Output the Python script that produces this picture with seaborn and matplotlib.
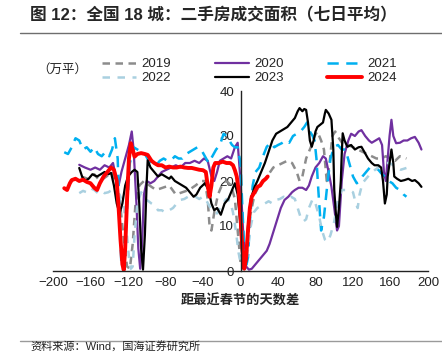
import numpy as np
import pandas as pd
import matplotlib
matplotlib.use("Agg")
import matplotlib.pyplot as plt
import seaborn as sns

sns.set_style("white")
plt.rcParams["font.family"] = ["Liberation Sans", "Noto Sans CJK SC", "DejaVu Sans"]
plt.rcParams["axes.unicode_minus"] = True

# days from Spring Festival / 7-day avg area (10k m2)
x_2019 = [-170, -163, -156, -150, -143, -137, -132, -128, -124, -121, -118, -115, -112, -108, -103, -97, -90, -83,
          -76, -69, -62, -55, -48, -42, -38, -35, -33, -31, -28, -24, -20, -15, -10, -6, -3, 0, 3, 6, 10, 15, 20,
          25, 30, 35, 40, 45, 50, 55, 60, 63, 66, 70, 75, 79, 82, 86, 89, 92, 95, 98, 101, 105, 110, 115, 120, 125,
          130, 135, 140, 145, 150, 155, 160, 165, 170, 177]
y_2019 = [21, 20.5, 21.5, 20, 21, 22, 19, 14, 6, 1, 0.5, 6, 15, 19, 20, 19, 18, 18.5,
          19, 17, 17.5, 18, 19, 20, 20, 16, 10, 9, 13, 17, 19, 20, 19, 16, 9, 2, 0.5, 3, 12, 17, 19,
          20, 21.5, 23, 23.5, 24, 24.5, 24, 22, 20, 21, 25, 27.5, 30, 31, 29, 27, 20, 24, 30, 31, 29.5, 28, 28, 27.5, 27,
          26.5, 26, 25.5, 25, 25, 25.5, 25, 24.5, 25.5, 25]

x_2020 = [-172, -166, -160, -155, -150, -145, -140, -136, -133, -130, -127, -123, -119, -116, -114, -111, -109, -107,
          -105, -103, -100, -96, -92, -88, -84, -79, -74, -69, -64, -59, -54, -49, -44, -39, -35, -31, -28, -25, -22,
          -18, -14, -10, -6, -3, 0, 3, 6, 9, 12, 16, 20, 24, 28, 31, 34, 37, 40, 43, 47, 51, 55, 58, 62, 66, 70, 73,
          76, 80, 84, 88, 91, 94, 97, 100, 103, 105, 108, 111, 115, 118, 122, 126, 129, 133, 137, 140, 144, 148, 151,
          153, 155, 157, 159, 161, 163, 166, 170, 174, 178, 182, 186, 190, 193]
y_2020 = [23.6, 23, 22.5, 23, 22.5, 23.5, 23, 24, 21, 19, 22, 25, 28, 31, 27, 15, 5, 0.5,
          6, 17, 20, 19.5, 20, 21, 22, 22.5, 23, 23.5, 23, 24, 24, 24.5, 24, 25, 24.5, 21, 20, 22, 24.5,
          25, 25.5, 25, 27.5, 28.5, 20, 8, 1, 0.3, 0.5, 1.5, 2.5, 3.5, 4.5, 6, 8, 10, 12, 14, 15.8, 16.5, 17.5, 18, 18.5, 18.5, 18, 19,
          21, 23, 24, 25.5, 25, 22, 18.7, 14, 9, 10, 20, 26, 29, 30.5, 30, 31, 31.3, 30, 29, 28.5, 29, 29.5, 28,
          22, 20, 25, 30, 33.6, 30, 28.4, 28.5, 29, 29, 29.5, 29.8, 28.5, 27]

x_2021 = [-188, -184, -180, -176, -172, -168, -164, -160, -156, -152, -148, -144, -140, -137, -134, -131, -129, -127,
          -124, -121, -118, -114, -110, -106, -102, -98, -94, -90, -86, -82, -78, -74, -70, -66, -62, -58, -54, -50,
          -46, -42, -38, -34, -30, -26, -22, -18, -15, -12, -9, -6, -3, 0, 2, 4, 6, 8, 10, 13, 16, 20, 24, 28, 32,
          36, 40, 44, 48, 52, 56, 60, 64, 68, 71, 74, 77, 79, 81, 83, 86, 89, 93, 96, 100, 104, 108, 112, 116, 120,
          124, 127, 130, 134, 138, 143, 147, 151, 154, 158, 162, 166, 170, 174, 177]
y_2021 = [26.4, 26, 27.5, 29.5, 29, 27, 27.5, 26.5, 27.5, 26, 25.5, 26.5, 25.5, 27, 29.5, 25, 12, 1,
          3, 14, 24, 27.5, 27, 26.5, 26, 24.5, 24, 23.5, 24.5, 25, 24.5, 24.6, 25.5, 25, 25, 26, 26.5, 27,
          27.5, 27, 25.5, 24, 25.5, 27, 28, 30.5, 30, 29, 28, 27.5, 27.5, 24, 14, 5, 1, 3, 11, 19, 22, 23, 25.5, 27.6, 28.5,
          27.5, 28, 28.4, 29, 28.5, 30, 30.5, 31, 32, 33, 31, 30, 29, 25, 18, 9, 12, 20, 25, 27.6, 28, 27, 27, 24, 21,
          19.5, 20, 21, 22, 23, 23, 22.5, 21.5, 21, 20, 19.5, 18.5, 18, 17, 16.5]

x_2022 = [-172, -168, -164, -160, -156, -152, -148, -145, -141, -137, -133, -129, -125, -122, -119, -117, -115, -113,
          -110, -106, -102, -98, -95, -91, -88, -84, -80, -76, -72, -68, -64, -60, -56, -52, -48, -44, -40, -36, -32,
          -28, -25, -22, -19, -15, -11, -8, -5, -2, 1, 4, 7, 10, 14, 18, 22, 26, 30, 34, 38, 42, 46, 50, 54, 58, 61,
          64, 67, 70, 73, 77, 80, 84, 87, 90, 93, 96, 100, 104, 108, 112, 116, 120, 123, 125, 127, 130, 134, 138,
          143, 147, 151, 155, 159, 163, 167, 171, 177]
y_2022 = [17.3, 17.8, 17.5, 18.4, 18, 17.3, 17.8, 17.3, 17.5, 18, 17.5, 17, 15, 10, 3, 0.5, 1, 8,
          15, 17.5, 16, 15.5, 15, 14.5, 13.5, 13.5, 13, 13.5, 14, 15, 15.8, 16, 16.5, 16.5, 16.5, 16, 16.5, 15.5, 14,
          13, 12.8, 14, 15, 16, 15.5, 13, 9, 4, 1, 0.5, 3, 9, 13, 14, 14.5, 15, 15.5, 15, 15.8, 16, 16.5, 16, 16.5, 16, 14,
          12, 11, 11.5, 14, 16, 15, 12, 9, 7, 6.5, 8, 11, 16, 18, 18, 18, 17.5, 15, 14, 17, 19.5, 20.5, 21.5,
          22.4, 23, 23.5, 24, 24, 23.5, 23, 22.5, 22.9]

x_2023 = [-172, -169, -166, -162, -158, -153, -149, -145, -141, -138, -135, -132, -129, -126, -123, -120, -116, -113,
          -110, -108, -106, -104, -102, -100, -99, -96, -92, -88, -84, -80, -76, -74, -70, -66, -62, -58, -54, -50,
          -47, -43, -38, -34, -31, -28, -25, -21, -17, -13, -9, -6, -3, 0, 2, 4, 6, 8, 11, 15, 18, 22, 26, 30, 34,
          38, 42, 46, 50, 54, 58, 61, 63, 66, 68, 70, 72, 74, 76, 78, 80, 82, 85, 88, 90, 91, 94, 97, 99, 100, 102,
          103, 105, 107, 108, 109, 111, 114, 118, 122, 126, 129, 132, 136, 140, 143, 147, 150, 152, 154, 156, 157,
          159, 161, 163, 164, 167, 171, 175, 179, 183, 186, 190, 193]
y_2023 = [22.9, 21, 20, 20.5, 21.5, 21, 21.5, 22, 21.5, 21.8, 19, 15, 12.8, 15, 19, 21, 22, 22.5,
          22, 15, 5, 0.3, 8, 20, 24.6, 23, 22, 21, 21.5, 21, 20.5, 21, 20, 19.5, 19, 18.5, 17.5, 16.5,
          17, 18.5, 19.5, 18, 15, 13.5, 14, 12.5, 15, 16, 18, 19.5, 17, 10, 3, 0.5, 2, 10, 16, 18.7, 20, 22, 24, 26.5, 29,
          30.5, 31, 31.5, 32, 33, 34, 35.5, 36.2, 35.5, 36, 35.8, 33, 29, 27.6, 29, 31, 32, 32.5, 33, 35, 35.8, 35, 33.6, 27, 18, 12,
          9.8, 14, 20, 26, 30.6, 29, 27.6, 28, 27, 27.5, 27.6, 26.5, 25, 24, 23.5, 23.5, 23, 20, 15, 17, 21,
          24, 27, 24, 21, 20.5, 20, 20.2, 20.5, 20, 20.2, 19.5, 18.7]

x_2024 = [-188, -185, -182, -180, -176, -172, -168, -164, -160, -156, -153, -150, -146, -142, -138, -135, -132, -130,
          -128, -126, -124.5, -123, -121, -119, -117, -115, -113, -110, -106, -102, -99, -95, -92, -88, -84, -80,
          -76, -72, -68, -64, -60, -56, -52, -48, -44, -40, -37, -35, -33, -31, -29, -27, -23, -19, -15, -11, -8,
          -6, -4, -2, 0, 2, 4, 6, 8, 10, 12, 15, 18, 21, 24, 27, 29]
y_2024 = [18.4, 18, 19.5, 20.2, 20.5, 20, 20.3, 19.8, 19.5, 18.5, 18, 19.5, 21, 22, 23, 22.5, 20, 14,
          7, 1.5, 0.2, 5, 16, 25, 28.4, 27, 25.4, 26, 26.2, 26, 25.8, 24.5, 24, 23.5, 23.5, 23,
          23.2, 23, 23, 23.2, 23, 22.9, 22.9, 22.7, 22.5, 22.4, 22, 19, 16.5, 19, 23, 24, 24, 24.3, 24, 24, 23.5,
          22.4, 21, 18, 12, 5, 0.5, 3, 9, 14, 16.5, 17.5, 18.7, 19, 20, 20.5, 21]

years = ["2019", "2020", "2021", "2022", "2023", "2024"]
xs = [x_2019, x_2020, x_2021, x_2022, x_2023, x_2024]
ys = [y_2019, y_2020, y_2021, y_2022, y_2023, y_2024]
colors = ["#8c8c8c", "#7030a0", "#00b0f0", "#a9d0e0", "#000000", "#ff0000"]
styles = [(0, (3, 2.2)), "-", (0, (4.5, 3)), (0, (3, 3)), "-", "-"]
widths = [1.8, 1.6, 1.8, 1.8, 1.6, 2.8]

fig = plt.figure(figsize=(4.42, 3.53), dpi=100)
ax = fig.add_axes([53 / 442, 82 / 353, 375 / 442, 180 / 353])

for yr, x, y, c, ls, lw in zip(years, xs, ys, colors, styles, widths):
    sns.lineplot(x=x, y=y, ax=ax, color=c, linestyle=ls, linewidth=lw,
                 label=yr, estimator=None, sort=False)

ax.set_xlim(-200, 200)
ax.set_ylim(0, 40)
ax.set_xticks(np.arange(-200, 201, 40))
ax.set_yticks([0, 10, 20, 30, 40])
ax.spines["left"].set_position(("data", 0))
ax.spines["top"].set_visible(False)
ax.spines["right"].set_visible(False)
for s in ["left", "bottom"]:
    ax.spines[s].set_color("#222222")
    ax.spines[s].set_linewidth(1.0)
ax.tick_params(axis="both", direction="out", length=3, width=1, color="#222222",
               labelsize=9.5, labelcolor="#222222", pad=1.5)
ax.set_xlabel("距最近春节的天数差", fontsize=9.5, fontweight="bold", labelpad=4)
ax.set_ylabel("")

# legend, rows: 2019 2020 2021 / 2022 2023 2024
handles, labels = ax.get_legend_handles_labels()
ax.get_legend().remove()
order = [0, 3, 1, 4, 2, 5]
fig.legend([handles[i] for i in order], [labels[i] for i in order], ncol=3,
           loc="upper left", bbox_to_anchor=(102 / 442, 1 - 58 / 353), frameon=False,
           fontsize=9.5, handlelength=2.6, handletextpad=0.4, columnspacing=3.3,
           labelspacing=0.15, borderpad=0, borderaxespad=0)
fig.text(37 / 442, 1 - 70 / 353, "（万平）", fontsize=9, va="center", ha="left", color="#222222")

# title and source
fig.text(30 / 442, 1 - 15 / 353, "图 12：全国 18 城：二手房成交面积（七日平均）",
         fontsize=12, fontweight="bold", va="center", ha="left")
fig.add_artist(plt.Line2D([20 / 442, 1], [1 - 33 / 353] * 2, color="#6e6e6e", lw=1))
fig.add_artist(plt.Line2D([20 / 442, 1], [1 - 341 / 353] * 2, color="#9a9a9a", lw=1))
fig.text(30 / 442, 1 - 352 / 353, "资料来源：Wind，国海证券研究所", fontsize=8,
         va="bottom", ha="left", color="#222222")

fig.savefig("out.png", dpi=100)
